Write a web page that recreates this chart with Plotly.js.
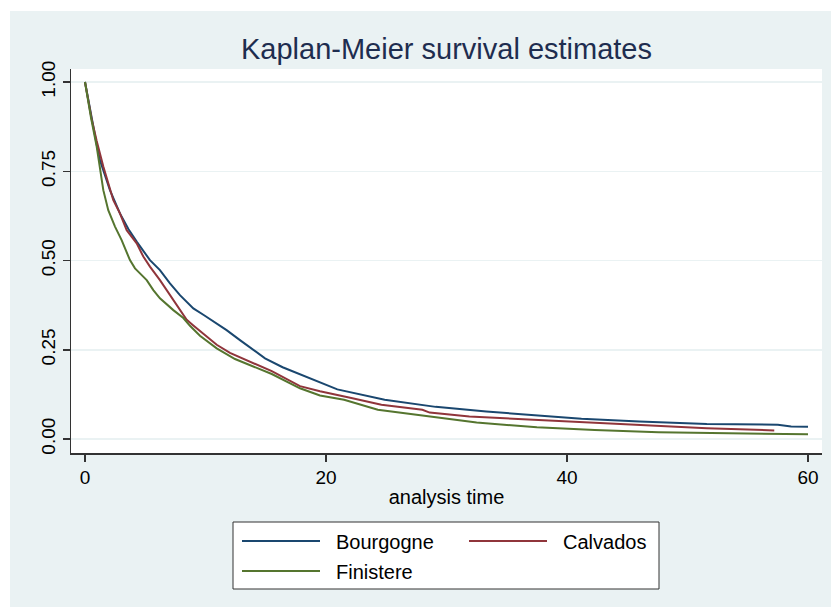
<!DOCTYPE html>
<html>
<head>
<meta charset="utf-8">
<script src="https://cdn.plot.ly/plotly-3.0.1.min.js"></script>
<style>
html,body{margin:0;padding:0;background:#ffffff;}
#chart{position:absolute;left:10px;top:11px;width:821px;height:596px;}
</style>
</head>
<body>
<div id="chart"></div>
<script>
// ---- data ----
const seriesNames = ["Bourgogne", "Calvados", "Finistere"];
const seriesColors = ["#1a476f", "#90353b", "#55752f"];

const bourgogneTime = [0, 0.55, 0.97, 1.24, 2.07, 2.9, 3.6, 4.29, 5.39, 6.22, 7.05, 7.88, 8.99, 9.82, 10.37, 11.2, 11.75, 12.86, 13.97, 14.94, 16.4, 17.84, 20.94, 24.87, 29.1, 33.3, 37.5, 41.2, 46.0, 51.6, 57.5, 58.6, 60];
const bourgogneSurv = [1.0, 0.894, 0.825, 0.781, 0.697, 0.632, 0.588, 0.553, 0.501, 0.473, 0.436, 0.403, 0.366, 0.348, 0.336, 0.318, 0.305, 0.277, 0.249, 0.226, 0.201, 0.181, 0.139, 0.110, 0.090, 0.077, 0.066, 0.057, 0.049, 0.042, 0.040, 0.035, 0.034];

const calvadosTime = [0, 0.55, 0.97, 1.52, 2.35, 2.9, 3.46, 4.29, 4.84, 5.39, 6.22, 6.78, 7.6, 8.44, 8.99, 9.54, 10.65, 10.93, 12.03, 13.0, 15.5, 17.84, 19.5, 22.1, 24.6, 28.0, 28.6, 31.9, 36.1, 41.2, 46.5, 51.6, 57.2];
const calvadosSurv = [1.0, 0.896, 0.835, 0.763, 0.669, 0.632, 0.585, 0.548, 0.511, 0.483, 0.445, 0.417, 0.375, 0.334, 0.318, 0.302, 0.272, 0.264, 0.241, 0.227, 0.190, 0.148, 0.134, 0.115, 0.096, 0.082, 0.074, 0.063, 0.056, 0.046, 0.037, 0.030, 0.024];

const finistereTime = [0, 0.5, 0.97, 1.24, 1.52, 1.93, 2.49, 3.04, 3.73, 4.15, 5.12, 5.67, 6.22, 7.33, 8.16, 8.71, 9.54, 10.93, 12.45, 15.5, 17.84, 19.5, 21.5, 24.3, 28.5, 32.5, 37.5, 42.3, 47.6, 56.1, 60];
const finistereSurv = [1.0, 0.90, 0.819, 0.753, 0.697, 0.641, 0.595, 0.557, 0.501, 0.478, 0.445, 0.417, 0.394, 0.361, 0.339, 0.317, 0.289, 0.254, 0.224, 0.182, 0.142, 0.122, 0.110, 0.082, 0.063, 0.046, 0.033, 0.025, 0.019, 0.014, 0.013];

const xTickVals = [0, 20, 40, 60];
const yTickVals = [0, 0.25, 0.5, 0.75, 1];
const yTickText = ["0.00", "0.25", "0.50", "0.75", "1.00"];

const titleText = "Kaplan-Meier survival estimates";
const xTitleText = "analysis time";

// ---- layout constants (pixels inside the chart div) ----
const W = 821, H = 596;
const M = {l: 61, r: 9, t: 58, b: 154};
const plotW = W - M.l - M.r, plotH = H - M.t - M.b;
// convert absolute page pixels to paper coordinates
function px(xAbs) { return (xAbs - 10 - M.l) / plotW; }
function py(yAbs) { return (H - M.b - (yAbs - 11)) / plotH; }

const times = [bourgogneTime, calvadosTime, finistereTime];
const survs = [bourgogneSurv, calvadosSurv, finistereSurv];

const traces = seriesNames.map((n, i) => ({
  type: "scatter", mode: "lines", name: n,
  x: times[i], y: survs[i],
  line: {color: seriesColors[i], width: 2, shape: "linear"},
  showlegend: false, hoverinfo: "skip"
}));

const FONT = "Liberation Sans, Arial, sans-serif";

// custom legend (Stata-style long line samples)
const legendRows = [
  {i: 0, lx0: 242, lx1: 320, tx: 334, y: 541},
  {i: 1, lx0: 469, lx1: 547, tx: 561, y: 541},
  {i: 2, lx0: 242, lx1: 320, tx: 334, y: 571}
];
const shapes = [
  {type: "rect", xref: "paper", yref: "paper", x0: px(233), x1: px(659), y0: py(589), y1: py(522),
   fillcolor: "#ffffff", line: {color: "#333333", width: 1}, layer: "below"}
];
const annotations = [];
legendRows.forEach(r => {
  shapes.push({type: "line", xref: "paper", yref: "paper", x0: px(r.lx0), x1: px(r.lx1), y0: py(r.y), y1: py(r.y),
    line: {color: seriesColors[r.i], width: 2}});
  annotations.push({xref: "paper", yref: "paper", x: px(r.tx), y: py(r.y + 1), xanchor: "left", yanchor: "middle",
    text: seriesNames[r.i], showarrow: false, font: {family: FONT, size: 20, color: "#000000"}});
});

const layout = {
  width: W, height: H,
  margin: M,
  paper_bgcolor: "#eaf2f3",
  plot_bgcolor: "#ffffff",
  showlegend: false,
  title: {text: titleText, x: 0.5, xref: "paper", xanchor: "center", y: 1 - 38 / H, yref: "container", yanchor: "middle",
          font: {family: FONT, size: 29, color: "#1e2d4f"}},
  xaxis: {
    range: [-14 / 12.05, 60 + 14 / 12.05],
    tickvals: xTickVals, ticks: "outside", ticklen: 7, tickwidth: 1.5, tickcolor: "#333333",
    showline: true, linecolor: "#333333", linewidth: 1.5, showgrid: false, zeroline: false,
    tickfont: {family: FONT, size: 19, color: "#000000"},
    title: {text: xTitleText, font: {family: FONT, size: 20, color: "#000000"}, standoff: 2}
  },
  yaxis: {
    range: [-14 / 357, 1 + 13 / 357],
    tickvals: yTickVals, ticktext: yTickText, tickangle: -90,
    ticks: "outside", ticklen: 7, tickwidth: 1.5, tickcolor: "#333333",
    showline: true, linecolor: "#333333", linewidth: 1.5,
    showgrid: true, gridcolor: "#eaf2f3", gridwidth: 1.5, zeroline: false,
    tickfont: {family: FONT, size: 19, color: "#000000"}
  },
  shapes: shapes,
  annotations: annotations
};

Plotly.newPlot("chart", traces, layout, {displayModeBar: false, staticPlot: true});
</script>
</body>
</html>
